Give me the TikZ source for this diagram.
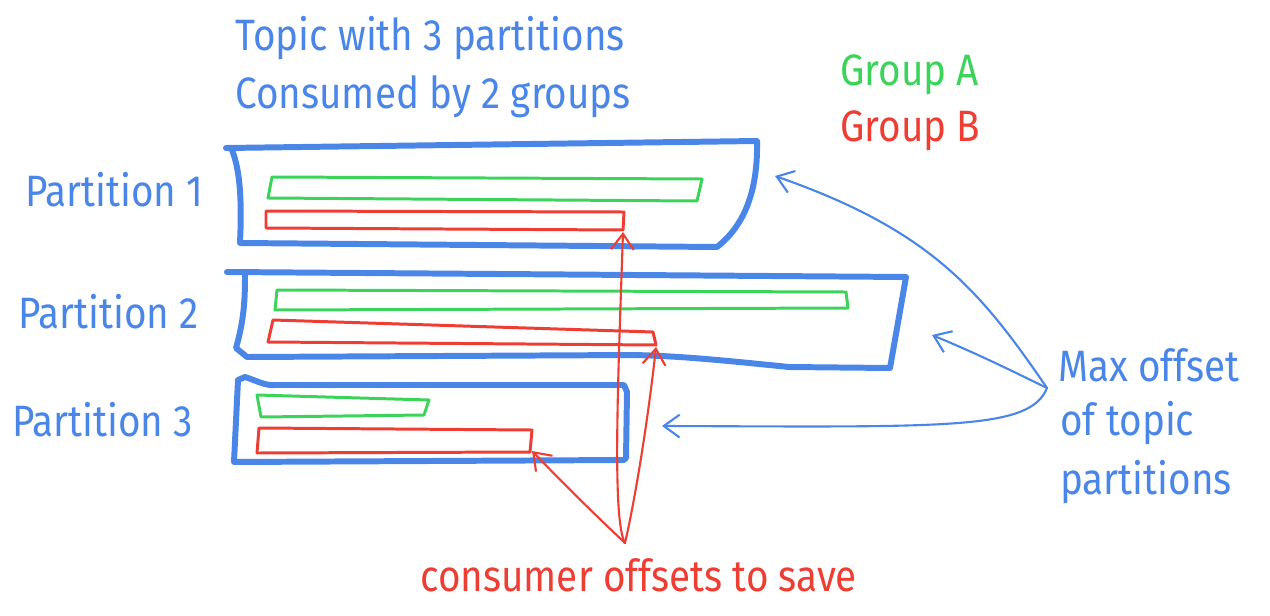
\documentclass[tikz,border=0pt]{standalone}
\usepackage{fontspec}
\setmainfont{Fira Sans}[FakeStretch=0.88]
\usetikzlibrary{arrows.meta}
\definecolor{gblue}{HTML}{4A86E8}
\definecolor{ggreen}{HTML}{3CD35A}
\definecolor{gred}{HTML}{EE3E33}
\tikzset{
  lbl/.style={anchor=west, inner sep=0pt, font=\fontsize{25}{30}\selectfont},
  box/.style={draw=gblue, line width=3.4pt, line join=round, line cap=round},
  gbar/.style={draw=ggreen, line width=1.7pt, line join=round},
  rbar/.style={draw=gred, line width=1.7pt, line join=round},
  harrow/.style={line width=1.2pt, line cap=round, -{Straight Barb[length=9pt,width=13pt,line width=1.2pt]}},
}
\begin{document}
\begin{tikzpicture}[x=0.02cm,y=-0.02cm]
\useasboundingbox (0,0) rectangle (1270,615);
% titles
\node[lbl, text=gblue] (t1) at (235,38) {Topic with 3 partitions};
\node[lbl, text=gblue] (t2) at (235,97) {Consumed by 2 groups};
\node[lbl, text=ggreen] (ga) at (840,75) {Group A};
\node[lbl, text=gred] (gb) at (840,131) {Group B};
\node[lbl, text=gblue] (p1) at (25,190) {Partition 1};
\node[lbl, text=gblue] (p2) at (18,312) {Partition 2};
\node[lbl, text=gblue] (p3) at (12,420) {Partition 3};
\node[lbl, text=gblue] (m1) at (1058,365) {Max offset};
\node[lbl, text=gblue] (m2) at (1060,423) {of topic};
\node[lbl, text=gblue] (m3) at (1060,482) {partitions};
\node[lbl, text=gred] (cs) at (420,575) {consumer offsets to save};
% partition boxes
\draw[box] (226,148) -- (757,141) .. controls (758,190) and (745,225) .. (717,247) -- (240,243) .. controls (242,200) and (240,170) .. (232,150);
\draw[box] (227,272) -- (906,277) -- (890,368) -- (789,367) .. controls (720,360) and (680,356) .. (633,355) -- (247,357) -- (236,348) .. controls (244,320) and (245,300) .. (245,275);
\draw[box] (238,380) -- (245,377) .. controls (255,380) and (265,386) .. (275,385) -- (624,385) -- (627,392) -- (626,458) -- (624,460) -- (234,462) -- (238,380);
% bars
\draw[gbar] (272,177) -- (702,179) -- (697,201) -- (268,198) -- cycle;
\draw[rbar] (266,211) -- (624,212) -- (623,230) -- (266,228) -- cycle;
\draw[gbar] (277,290) -- (846,292) -- (848,308) -- (275,310) -- cycle;
\draw[rbar] (273,320) -- (653,332) -- (656,345) -- (268,342) -- cycle;
\draw[gbar] (257,395) -- (429,400) -- (424,415) -- (261,417) -- cycle;
\draw[rbar] (259,428) -- (532,430) -- (530,452) -- (257,453) -- cycle;
% connector endpoints
\coordinate (rs) at (625,543);
\coordinate (r1) at (623,232);
\coordinate (r2) at (656,347);
\coordinate (r3) at (532,451);
\coordinate (bs) at (1047,388);
\coordinate (b1) at (775,176);
\coordinate (b2) at (932,335);
\coordinate (b3) at (662,426);
% red arrows
\draw[harrow, gred] (rs) .. controls (612,520) and (618,380) .. (r1);
\draw[harrow, gred] (rs) .. controls (635,500) and (648,420) .. (r2);
\draw[harrow, gred] (rs) .. controls (590,510) and (560,480) .. (r3);
% blue arrows
\draw[harrow, gblue] (bs) .. controls (980,290) and (930,230) .. (b1);
\draw[harrow, gblue] (bs) .. controls (1010,370) and (980,355) .. (b2);
\draw[harrow, gblue] (bs) .. controls (1030,430) and (950,427) .. (b3);
\end{tikzpicture}
\end{document}
